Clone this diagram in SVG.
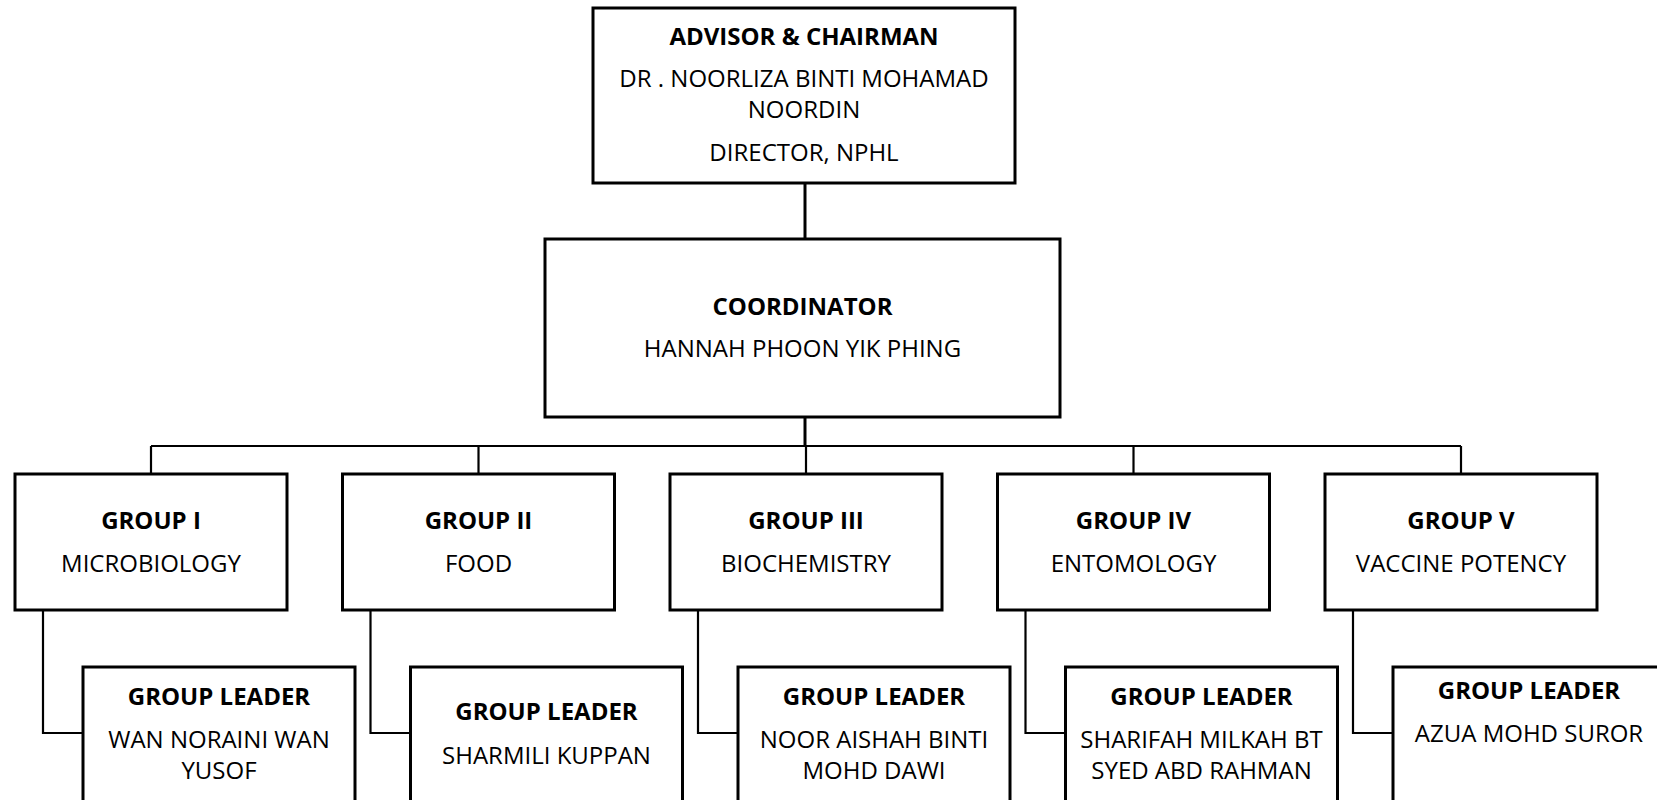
<svg xmlns="http://www.w3.org/2000/svg" width="1657" height="800" viewBox="0 0 1657 800">
<style>
.box{fill:#fff;stroke:#000;stroke-width:3}
.t{font-family:"Open Sans","Liberation Sans",sans-serif;font-size:24px;fill:#000;text-anchor:middle}
.b{font-weight:bold}
.c3{fill:none;stroke:#000;stroke-width:3}
.c2{fill:none;stroke:#000;stroke-width:2.2}
</style>
<rect width="1657" height="800" fill="#fff"/>
<g id="connectors">
<line class="c3" x1="805" y1="183" x2="805" y2="239"/>
<line class="c3" x1="805" y1="417" x2="805" y2="446"/>
<line class="c2" x1="151" y1="446" x2="1461" y2="446"/>
<line class="c2" x1="151" y1="446" x2="151" y2="474"/>
<line class="c2" x1="478.5" y1="446" x2="478.5" y2="474"/>
<line class="c2" x1="806" y1="446" x2="806" y2="474"/>
<line class="c2" x1="1133.5" y1="446" x2="1133.5" y2="474"/>
<line class="c2" x1="1461" y1="446" x2="1461" y2="474"/>
<polyline class="c2" points="43,610 43,733 83,733"/>
<polyline class="c2" points="370.5,610 370.5,733 410.5,733"/>
<polyline class="c2" points="698,610 698,733 738,733"/>
<polyline class="c2" points="1025.5,610 1025.5,733 1065.5,733"/>
<polyline class="c2" points="1353,610 1353,733 1393,733"/>
</g>
<g id="advisor">
<rect class="box" x="593" y="8" width="422" height="175"/>
<text class="t b" x="804" y="45">ADVISOR &amp; CHAIRMAN</text>
<text class="t" x="804" y="87">DR . NOORLIZA BINTI MOHAMAD</text>
<text class="t" x="804" y="118">NOORDIN</text>
<text class="t" x="804" y="161">DIRECTOR, NPHL</text>
</g>
<g id="coordinator">
<rect class="box" x="545" y="239" width="515" height="178"/>
<text class="t b" x="802.5" y="315">COORDINATOR</text>
<text class="t" x="802.5" y="357">HANNAH PHOON YIK PHING</text>
</g>
<g id="group1">
<rect class="box" x="15" y="474" width="272" height="136"/>
<text class="t b" x="151" y="529">GROUP I</text>
<text class="t" x="151" y="572">MICROBIOLOGY</text>
</g>
<g id="group2">
<rect class="box" x="342.5" y="474" width="272" height="136"/>
<text class="t b" x="478.5" y="529">GROUP II</text>
<text class="t" x="478.5" y="572">FOOD</text>
</g>
<g id="group3">
<rect class="box" x="670" y="474" width="272" height="136"/>
<text class="t b" x="806" y="529">GROUP III</text>
<text class="t" x="806" y="572">BIOCHEMISTRY</text>
</g>
<g id="group4">
<rect class="box" x="997.5" y="474" width="272" height="136"/>
<text class="t b" x="1133.5" y="529">GROUP IV</text>
<text class="t" x="1133.5" y="572">ENTOMOLOGY</text>
</g>
<g id="group5">
<rect class="box" x="1325" y="474" width="272" height="136"/>
<text class="t b" x="1461" y="529">GROUP V</text>
<text class="t" x="1461" y="572">VACCINE POTENCY</text>
</g>
<g id="leader1">
<rect class="box" x="83" y="667" width="272" height="160"/>
<text class="t b" x="219" y="705">GROUP LEADER</text>
<text class="t" x="219" y="748">WAN NORAINI WAN</text>
<text class="t" x="219" y="779">YUSOF</text>
</g>
<g id="leader2">
<rect class="box" x="410.5" y="667" width="272" height="160"/>
<text class="t b" x="546.5" y="720">GROUP LEADER</text>
<text class="t" x="546.5" y="764">SHARMILI KUPPAN</text>
</g>
<g id="leader3">
<rect class="box" x="738" y="667" width="272" height="160"/>
<text class="t b" x="874" y="705">GROUP LEADER</text>
<text class="t" x="874" y="748">NOOR AISHAH BINTI</text>
<text class="t" x="874" y="779">MOHD DAWI</text>
</g>
<g id="leader4">
<rect class="box" x="1065.5" y="667" width="272" height="160"/>
<text class="t b" x="1201.5" y="705">GROUP LEADER</text>
<text class="t" x="1201.5" y="748">SHARIFAH MILKAH BT</text>
<text class="t" x="1201.5" y="779">SYED ABD RAHMAN</text>
</g>
<g id="leader5">
<rect class="box" x="1393" y="667" width="272" height="160"/>
<text class="t b" x="1529" y="699">GROUP LEADER</text>
<text class="t" x="1529" y="742">AZUA MOHD SUROR</text>
</g>
</svg>
